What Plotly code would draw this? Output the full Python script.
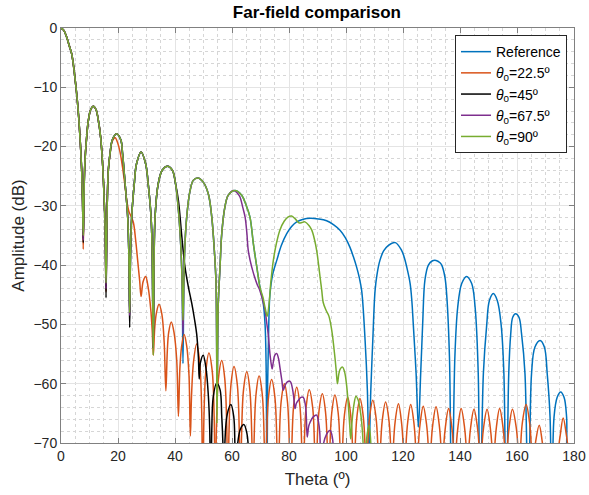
import plotly.graph_objects as go

# ---------------- data (theta in deg, amplitude in dB) ----------------
main_lobe = [(0, 0), (1, -0.4), (2, -1.55), (2.9, -3.0), (3.75, -4.35), (4.5, -6.8), (5.26, -10.0),
             (5.8, -12.6), (6.3, -15.6), (6.8, -19.5), (7.25, -24.0), (7.55, -29)]
side1 = [(8.05, -29), (8.35, -23), (9.0, -18.4), (9.6, -15.6), (10.4, -13.8), (11.35, -13.2), (12.3, -13.8),
         (13.1, -15.6), (13.9, -18.4), (14.6, -23), (15.2, -29.5), (15.5, -34)]
side2 = [(16.1, -33), (16.6, -24), (17.2, -21.2), (18.0, -18.9), (19.5, -17.85), (21.0, -18.9), (21.6, -21.2),
         (22.2, -24.5), (22.8, -28), (23.4, -31.9), (23.8, -38)]
side3 = [(24.4, -38), (24.8, -31.9), (25.7, -26.3), (26.5, -22.9), (28.1, -20.9), (29.7, -22.9), (30.6, -26.3),
         (31.6, -31.9), (32.0, -38)]
side4_left = [(32.65, -40), (33.0, -31.9), (34.1, -26.3), (35.5, -24.0), (37.4, -23.3), (39.1, -24.0), (40.2, -26.3)]
side4_right = [(41.4, -31.9), (42.1, -37.5), (42.5, -43)]
side5 = [(43.1, -43), (43.4, -37.5), (44.1, -31.9), (45.3, -27.4), (46.4, -25.7), (48.0, -25.3), (49.9, -26.0),
         (51.7, -28.0), (52.9, -31.9), (53.8, -37.5), (54.4, -43.1)]
side6_left = [(55.15, -47), (55.8, -40.3), (56.4, -34.7), (57.5, -30.2), (58.7, -28.2)]
side6_right = [(61.05, -27.4), (63.4, -28.2), (64.9, -29.8), (66.3, -31.9), (67.5, -36.4), (68.7, -40.3), (69.8, -43.7)]

ref_tail = [(70.9, -46.2), (71.6, -50), (72.0, -58), (72.25, -85),
            (72.5, -60), (72.9, -50), (73.3, -45), (74.3, -41.5), (75.7, -39.2), (77.3, -36.7), (79.2, -34.7),
            (80.9, -33.5), (82.7, -32.7), (85.0, -32.25), (87.4, -32.1), (90.3, -32.2), (93.2, -32.5), (95.7, -33.2),
            (97.9, -34.1), (99.8, -35.4), (101.4, -37), (102.6, -38.6), (103.7, -40.3), (104.7, -42.2), (105.5, -44.3),
            (106.7, -52.7), (107.5, -61.1), (108.05, -72),
            (108.7, -61.1), (109.4, -52.7), (110.2, -44.3), (110.9, -41.5), (111.9, -39.2), (113.2, -37.6),
            (114.8, -36.7), (117.3, -36.2), (119.5, -37.5), (120.5, -38.8), (121.3, -40.3), (122.5, -43.1),
            (123.1, -46), (123.6, -49.9), (124.6, -58.3), (125.4, -67.3),
            (126.2, -58.3), (126.9, -49.9), (127.7, -42.5), (128.9, -40.0), (130.2, -39.3), (131.6, -39.2),
            (133.0, -39.6), (133.6, -40.0), (134.7, -42), (135.3, -44.8), (136.3, -55.5), (137.1, -85),
            (138.2, -55.5), (139.2, -47.1), (140.6, -43.1), (142.3, -41.9), (144.1, -43.1), (145.3, -47.1),
            (146.4, -58.3), (147.0, -85),
            (148.2, -58.3), (149.4, -49.9), (150.3, -46), (151.7, -44.8), (153.1, -46), (154.4, -49.9),
            (155.4, -58.3), (156.2, -85),
            (157.1, -58.3), (157.8, -51.6), (158.5, -48.8), (159.5, -48.2), (160.7, -48.8), (161.6, -51.6),
            (162.8, -58.3), (164.0, -85),
            (165.1, -58.3), (166.3, -53.8), (168.1, -52.7), (169.6, -53.8), (170.6, -58.3), (171.6, -65.6),
            (172.2, -85),
            (173.0, -65.6), (174.1, -62.3), (175.3, -61.4), (176.5, -62.3), (177.4, -65.6), (178.2, -85), (180, -85)]

t225_tail = [(16.1, -33), (16.6, -24), (17.2, -21.3), (18.0, -19.1), (19.0, -18.5), (19.9, -19.4), (20.7, -20.9),
             (21.6, -23.5), (22.5, -26.8), (23.2, -29.5), (23.8, -30.9), (24.6, -31.8), (25.4, -32.8), (26.2, -35.8),
             (26.9, -39.2), (27.6, -42.6), (28.1, -45.3), (28.8, -42.8), (29.7, -41.9), (30.6, -43.8), (31.5, -47.5),
             (32.0, -51), (32.4, -55.2), (32.9, -50.5), (33.5, -48), (34.4, -46.6), (35.4, -48.3), (36.2, -53),
             (36.8, -61.2), (37.3, -54.5), (37.8, -51.3), (38.7, -49.6), (39.7, -51.5), (40.6, -56), (41.2, -65.5),
             (41.7, -57.5), (42.3, -53.8), (43.2, -51.7), (44.1, -53.6), (44.9, -58.5), (45.4, -68.8),
             (45.8, -62), (46.5, -56.3), (47.6, -53.3), (48.65, -56.3), (49.35, -64.3), (49.75, -85),
             (50.15, -65.8), (50.85, -57.8), (51.9, -54.8), (53.05, -57.8), (53.75, -65.8), (54.15, -85),
             (54.55, -67.1), (55.25, -59.1), (56.4, -56.1), (57.45, -59.1), (58.15, -67.1), (58.55, -85),
             (58.95, -68.1), (59.65, -60.1), (60.7, -57.1), (61.85, -60.1), (62.55, -68.1), (62.95, -85),
             (63.35, -69), (64.05, -61), (65.2, -58), (66.25, -61), (66.95, -69), (67.35, -85),
             (67.75, -69.7), (68.45, -61.7), (69.5, -58.7), (70.6, -61.7), (71.3, -69.7), (71.7, -85),
             (72.1, -70.3), (72.8, -62.3), (73.9, -59.3), (75.05, -62.3), (75.75, -70.3), (76.15, -85),
             (76.55, -71), (77.25, -63), (78.4, -60), (79.45, -63), (80.15, -71), (80.55, -85),
             (80.95, -71.5), (81.65, -63.6), (82.7, -60.6), (83.8, -63.6), (84.5, -71.5), (84.9, -85),
             (85.3, -71.5), (86.0, -64), (87.1, -61), (88.3, -64), (89.0, -71.5), (89.4, -85),
             (89.8, -71.5), (90.5, -64.7), (91.7, -61.7), (92.8, -64.7), (93.5, -71.5), (93.9, -85),
             (94.3, -71.5), (95.0, -64.9), (96.1, -61.9), (97.25, -64.9), (97.95, -71.5), (98.35, -85),
             (98.75, -71.5), (99.45, -65.3), (100.6, -62.3), (101.65, -65.3), (102.35, -71.5), (102.75, -85),
             (103.15, -71.5), (103.85, -65.5), (104.9, -62.5), (106.05, -65.5), (106.75, -71.5), (107.15, -85),
             (107.55, -71.5), (108.25, -65.8), (109.4, -62.8), (110.55, -65.8), (111.25, -71.5), (111.65, -85),
             (112.05, -71.5), (112.75, -66.1), (113.9, -63.1), (115.05, -66.1), (115.75, -71.5), (116.15, -85),
             (116.55, -71.5), (117.25, -66.4), (118.4, -63.4), (119.45, -66.4), (120.15, -71.5), (120.55, -85),
             (120.95, -71.5), (121.65, -66.5), (122.7, -63.5), (123.8, -66.5), (124.5, -71.5), (124.9, -85),
             (125.3, -71.5), (126.0, -66.8), (127.1, -63.8), (128.25, -66.8), (128.95, -71.5), (129.35, -85),
             (129.75, -71.5), (130.45, -66.9), (131.6, -63.9), (132.7, -66.9), (133.4, -71.5), (133.8, -85),
             (134.2, -71.5), (134.9, -67.2), (136.0, -64.2), (137.1, -67.2), (137.8, -71.5), (138.2, -85),
             (138.6, -71.5), (139.3, -67.2), (140.4, -64.2), (141.55, -67.2), (142.25, -71.5), (142.65, -85),
             (143.05, -71.5), (143.75, -67.3), (144.9, -64.3), (146.1, -67.3), (146.8, -71.5), (147.2, -85),
             (147.6, -71.5), (148.3, -67.3), (149.5, -64.3), (150.6, -67.3), (151.3, -71.5), (151.7, -85),
             (152.1, -71.5), (152.8, -67.2), (153.9, -64.2), (155.05, -67.2), (155.75, -71.5), (156.15, -85),
             (156.55, -71.5), (157.25, -67.3), (158.4, -64.3), (159.7, -67.3), (160.4, -71.5), (160.8, -85),
             (161.2, -71.5), (161.9, -66.5), (163.2, -63.5), (164.4, -66.5), (165.1, -71.5), (165.5, -85),
             (165.9, -73), (166.6, -69.6), (167.8, -67), (168.8, -69.6), (169.5, -73), (169.9, -85),
             (172.0, -74), (174.1, -85),
             (174.5, -71.5), (175.2, -68.6), (176.2, -65.8), (177.3, -68.6), (178.0, -71.5), (178.4, -85), (180, -85)]

t45_tail = [(41.2, -29.1), (42.3, -34.7), (43.5, -40.3), (44.7, -43.7), (45.9, -46.5), (46.8, -49), (47.6, -51.6),
            (48.2, -55.5), (48.5, -59.2), (48.9, -56.5), (49.9, -55.2), (50.9, -57.5), (51.7, -62), (52.2, -68),
            (52.5, -85), (52.9, -68), (53.4, -62.3), (54.6, -59.9), (55.8, -61), (56.4, -65.5), (56.8, -70),
            (57.1, -85), (57.5, -70), (58.3, -65.2), (59.6, -63.5), (60.6, -65.5), (61.0, -70), (61.3, -85),
            (61.8, -71), (63.0, -67.6), (64.2, -66.9), (65.2, -68.3), (65.7, -70.5), (66.0, -85)]

t675_tail = [(60.6, -27.4), (62.0, -27.9), (62.8, -28.5), (63.8, -30.3), (64.6, -31.9), (65.2, -34.5), (65.7, -37.5),
             (66.9, -40.3), (68.7, -43.1), (69.8, -44.3), (70.7, -45.8), (71.6, -47.6), (72.2, -49.8), (72.7, -51.6),
             (73.3, -54.9), (73.8, -56.8), (74.1, -57.5), (74.5, -56.3), (75.0, -55.2), (75.7, -54.9), (76.3, -55.7),
             (76.8, -57.2), (77.5, -59.5), (78.0, -61.1), (78.6, -60.3), (79.4, -59.7), (80.4, -59.6), (81.2, -60.8),
             (81.7, -62.5), (82.1, -64.2), (82.6, -63.3), (83.3, -62.8), (84.2, -62.3), (85.0, -62.3), (85.6, -63.2),
             (86.0, -64.8), (86.4, -69), (86.9, -67.2), (87.4, -66.5), (88.5, -65.6), (89.7, -65.3), (90.3, -66.3),
             (90.8, -68.3), (91.3, -80), (91.8, -71), (93.2, -68.5), (94.4, -67.9), (95.2, -69), (95.8, -80)]

t90_tail = [(70.9, -45.5), (71.7, -47.4), (72.35, -48.6), (73.0, -46.5), (73.6, -43), (74.5, -39.2), (75.6, -36.3),
            (76.8, -34.1), (78.3, -32.6), (79.6, -31.9), (80.9, -31.7), (82.2, -32.2), (83.6, -32.9), (84.6, -32.8),
            (85.6, -32.7), (87.0, -33.3), (88.0, -34.1), (89.0, -35.8), (89.7, -37.5), (90.4, -40), (90.9, -42.0),
            (91.5, -44.3), (92.0, -46.3), (93.0, -47.6), (94.0, -48.6), (95.0, -51.0), (96.1, -55.5), (96.6, -58),
            (97.0, -60), (97.5, -58.3), (98.0, -57.5), (98.8, -57.2), (99.5, -58), (100.2, -60.2), (100.8, -63.5),
            (101.3, -67), (101.65, -69.3), (102.1, -66.5), (102.7, -63.8), (103.5, -62.1), (104.3, -62.8),
            (104.9, -64.2), (105.5, -66.5), (106.0, -70), (106.6, -80), (107.1, -70), (108.1, -67), (108.7, -70),
            (109.2, -85)]

# null depths (dB) per series at the shared nulls
null_theta = [7.8, 15.8, 24.1, 32.35, 42.8, 54.75]
null_ref = [-35.5, -43.5, -48, -54, -56.6, -63]
null_225 = [-37.3, -44.5]
null_45 = [-36.2, -45.5, -50.5, -54]
null_675 = [-35.8, -44, -48.5, -54, -51.6, -62]
null_90 = [-35, -43, -48, -55.2, -49.3, -66.7]

names = ["Reference", "<i>θ</i><sub>0</sub>=22.5º", "<i>θ</i><sub>0</sub>=45º",
         "<i>θ</i><sub>0</sub>=67.5º", "<i>θ</i><sub>0</sub>=90º"]
colors = ["#0072BD", "#D95319", "#000000", "#7E2F8E", "#77AC30"]


def n(th, db):
    return [(th, db)]


ref = (main_lobe + n(null_theta[0], null_ref[0]) + side1 + n(null_theta[1], null_ref[1]) + side2
       + n(null_theta[2], null_ref[2]) + side3 + n(null_theta[3], null_ref[3]) + side4_left + side4_right
       + n(null_theta[4], null_ref[4]) + side5 + n(null_theta[5], null_ref[5]) + side6_left + side6_right + ref_tail)
s225 = main_lobe + n(null_theta[0], null_225[0]) + side1 + n(null_theta[1], null_225[1]) + t225_tail
s45 = (main_lobe + n(null_theta[0], null_45[0]) + side1 + n(null_theta[1], null_45[1]) + side2
       + n(null_theta[2], null_45[2]) + side3 + n(null_theta[3], null_45[3]) + side4_left + t45_tail)
s675 = (main_lobe + n(null_theta[0], null_675[0]) + side1 + n(null_theta[1], null_675[1]) + side2
        + n(null_theta[2], null_675[2]) + side3 + n(null_theta[3], null_675[3]) + side4_left + side4_right
        + n(null_theta[4], null_675[4]) + side5 + n(null_theta[5], null_675[5]) + side6_left + t675_tail)
s90 = (main_lobe + n(null_theta[0], null_90[0]) + side1 + n(null_theta[1], null_90[1]) + side2
       + n(null_theta[2], null_90[2]) + side3 + n(null_theta[3], null_90[3]) + side4_left + side4_right
       + n(null_theta[4], null_90[4]) + side5 + n(null_theta[5], null_90[5]) + side6_left + side6_right + t90_tail)

series = [ref, s225, s45, s675, s90]

fig = go.Figure()
for pts, name, col in zip(series, names, colors):
    fig.add_trace(go.Scatter(
        x=[p[0] for p in pts], y=[p[1] for p in pts], mode="lines", name=name,
        line=dict(color=col, width=1.5, shape="spline", smoothing=1.0),
    ))

FONT = "Liberation Sans, Arial, Helvetica, sans-serif"
axis_common = dict(
    showline=True, linecolor="#808080", linewidth=1, mirror="ticks",
    ticks="inside", ticklen=5, tickcolor="#808080", automargin=False,
    showgrid=True, gridcolor="#e4e4e4", gridwidth=1, zeroline=False,
    tickfont=dict(family=FONT, size=14, color="#262626"),
)
fig.update_xaxes(
    range=[0, 180], tickmode="linear", tick0=0, dtick=20,
    minor=dict(dtick=5, showgrid=True, gridcolor="#d6d6d6", griddash="dot", gridwidth=1),
    title=dict(text="Theta (º)", font=dict(family=FONT, size=17, color="#262626"), standoff=10),
    **axis_common,
)
fig.update_yaxes(
    range=[-70, 0], tickmode="linear", tick0=0, dtick=10,
    minor=dict(dtick=2, showgrid=True, gridcolor="#d6d6d6", griddash="dot", gridwidth=1),
    title=dict(text="Amplitude (dB)", font=dict(family=FONT, size=17, color="#262626"), standoff=4),
    **axis_common,
)
fig.update_layout(
    width=589, height=495,
    margin=dict(l=61, r=15, t=28, b=52, autoexpand=False),
    paper_bgcolor="white", plot_bgcolor="white",
    title=dict(text="<b>Far-field comparison</b>", x=0.538, xanchor="center", y=0.975, yanchor="middle",
               font=dict(family=FONT, size=17, color="#000000")),
    showlegend=True,
    legend=dict(x=0.768, y=0.983, xanchor="left", yanchor="top", bgcolor="white",
                bordercolor="#262626", borderwidth=1, font=dict(family=FONT, size=14, color="#000000"),
                tracegroupgap=0, itemwidth=30),
)

fig.write_html("out.html", config={"displayModeBar": False},
               post_script="document.body.style.margin='0';")
